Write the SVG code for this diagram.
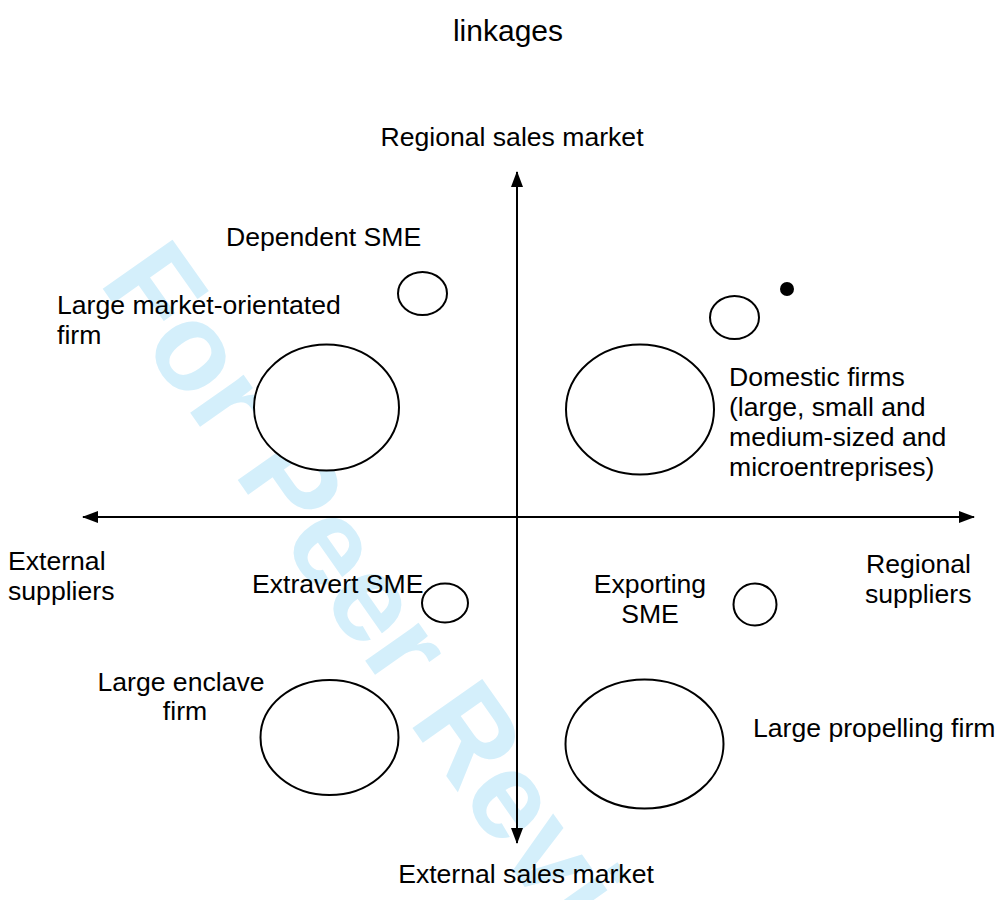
<svg xmlns="http://www.w3.org/2000/svg" width="1000" height="900" viewBox="0 0 1000 900">
<style>
text{font-family:"Liberation Sans",Arial,sans-serif;font-size:26.6px;fill:#000}
.wm{font-weight:bold;font-size:124px;fill:#d4effb}
.t{font-size:30px}
.n{fill:#fff;stroke:#000;stroke-width:2}
.ax{stroke:#000;stroke-width:2;fill:none}
</style>
<defs>
<marker id="ah" viewBox="0 0 16 12" refX="15" refY="6" markerWidth="16" markerHeight="12" markerUnits="userSpaceOnUse" orient="auto">
<path d="M0,0 L16,6 L0,12 Z" fill="#000"/>
</marker>
</defs>
<rect width="1000" height="900" fill="#fff"/>
<text class="wm" transform="translate(98,282) rotate(54.8)">For Peer Review</text>
<text class="t" x="508" y="41" text-anchor="middle">linkages</text>
<g id="connectors">
<line class="ax" x1="517" y1="517" x2="517" y2="172" marker-end="url(#ah)"/>
<line class="ax" x1="517" y1="517" x2="517" y2="843" marker-end="url(#ah)"/>
<line class="ax" x1="517" y1="517" x2="83" y2="517" marker-end="url(#ah)"/>
<line class="ax" x1="517" y1="517" x2="974" y2="517" marker-end="url(#ah)"/>
</g>
<g id="axis-labels">
<text x="512" y="146" text-anchor="middle">Regional sales market</text>
<text x="526" y="883" text-anchor="middle">External sales market</text>
<text x="8" y="570">External</text>
<text x="8" y="600">suppliers</text>
<text x="866" y="573">Regional</text>
<text x="865" y="603">suppliers</text>
</g>
<g id="dependent-sme">
<ellipse class="n" cx="422.5" cy="293.5" rx="24.5" ry="21.5"/>
<text x="226" y="246">Dependent SME</text>
</g>
<g id="large-market-orientated-firm">
<ellipse class="n" cx="326.5" cy="407.5" rx="72.5" ry="63"/>
<text x="57" y="314">Large market-orientated</text>
<text x="57" y="344">firm</text>
</g>
<g id="domestic-small">
<ellipse class="n" cx="734.5" cy="317.5" rx="24.5" ry="21.5"/>
<circle cx="787" cy="289" r="7" fill="#000"/>
</g>
<g id="domestic-firms">
<ellipse class="n" cx="640" cy="409.5" rx="74" ry="65"/>
<text x="729" y="386">Domestic firms</text>
<text x="729" y="416">(large, small and</text>
<text x="729" y="446">medium-sized and</text>
<text x="729" y="476">microentreprises)</text>
</g>
<g id="extravert-sme">
<ellipse class="n" cx="445" cy="603" rx="23" ry="19.5"/>
<text x="252" y="593">Extravert SME</text>
</g>
<g id="exporting-sme">
<ellipse class="n" cx="755" cy="604.5" rx="21.5" ry="21"/>
<text x="650" y="593" text-anchor="middle">Exporting</text>
<text x="650" y="623" text-anchor="middle">SME</text>
</g>
<g id="large-enclave-firm">
<ellipse class="n" cx="329.5" cy="737.5" rx="69" ry="57.5"/>
<text x="181" y="691" text-anchor="middle">Large enclave</text>
<text x="185" y="720" text-anchor="middle">firm</text>
</g>
<g id="large-propelling-firm">
<ellipse class="n" cx="644.5" cy="744" rx="79" ry="64.5"/>
<text x="753" y="737">Large propelling firm</text>
</g>
</svg>
